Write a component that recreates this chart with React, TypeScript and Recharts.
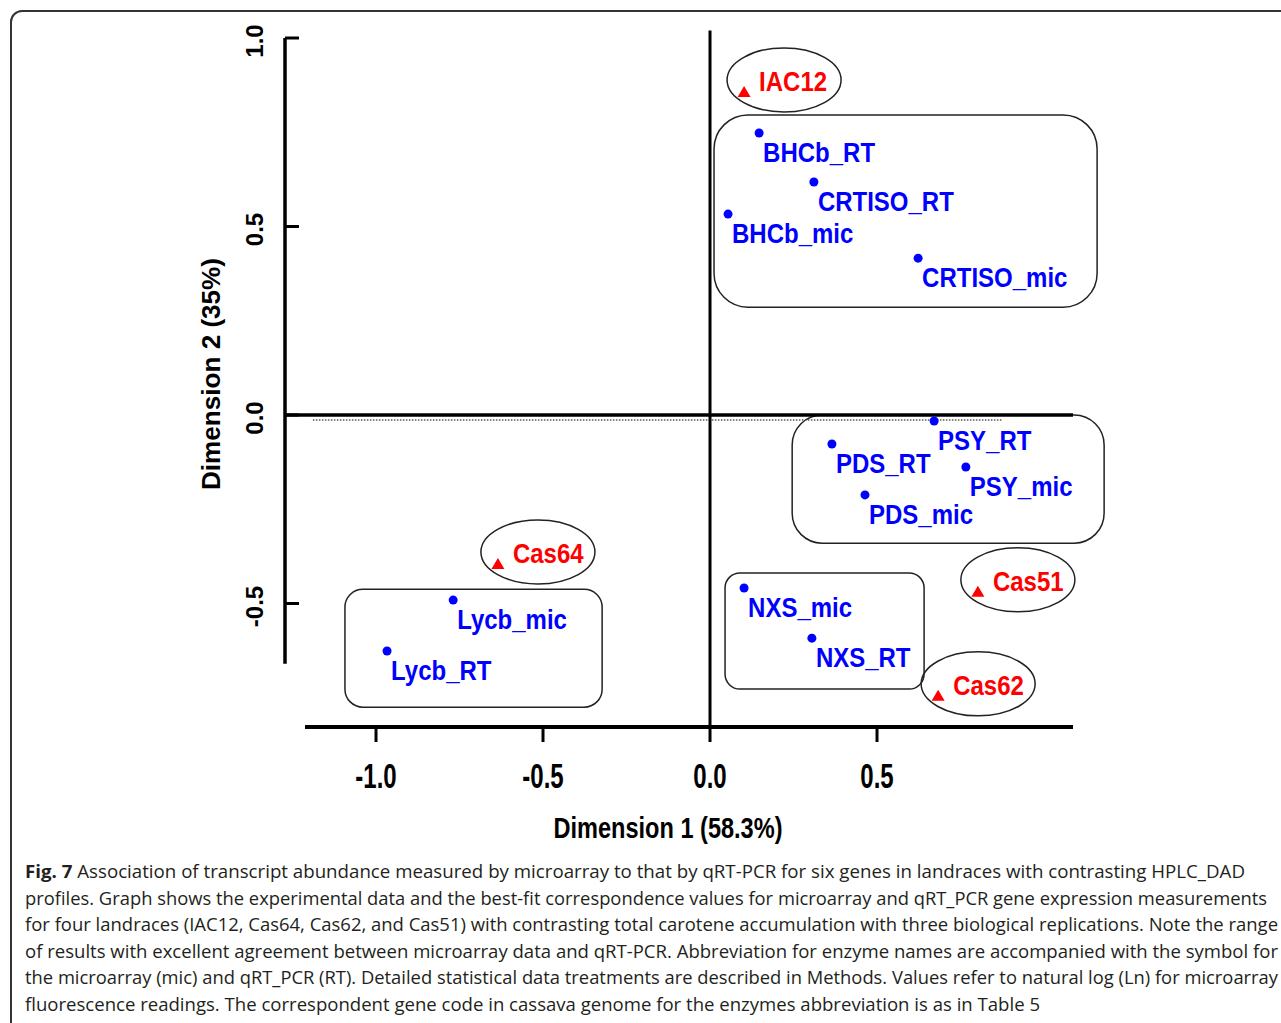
import React from "react";
import { ScatterChart, Scatter, XAxis, YAxis, ReferenceLine, ReferenceArea } from "recharts";

// gene scores (mic = microarray, RT = qRT_PCR)
const geneNames = [
  "BHCb_RT", "CRTISO_RT", "BHCb_mic", "CRTISO_mic",
  "PSY_RT", "PDS_RT", "PSY_mic", "PDS_mic",
  "NXS_mic", "NXS_RT", "Lycb_mic", "Lycb_RT",
];
const geneDim1 = [0.147, 0.311, 0.054, 0.623, 0.671, 0.365, 0.766, 0.464, 0.102, 0.305, -0.769, -0.967];
const geneDim2 = [0.748, 0.618, 0.533, 0.416, -0.016, -0.077, -0.138, -0.212, -0.459, -0.592, -0.491, -0.626];

// landrace scores
const landraceNames = ["IAC12", "Cas64", "Cas51", "Cas62"];
const landraceDim1 = [0.102, -0.635, 0.802, 0.683];
const landraceDim2 = [0.857, -0.395, -0.469, -0.745];

const xTicks = [-1.0, -0.5, 0.0, 0.5];
const yTicks = [-0.5, 0.0, 0.5, 1.0];

const X_MIN = -1.2725;
const X_MAX = 1.0868;
const Y_MIN = -0.8276;
const Y_MAX = 1.0;

// rounded boxes grouping the genes (annotation, data units)
const groupBoxes = [
  { x1: 0.012, x2: 1.159, y1: 0.796, y2: 0.286, r: 34 },
  { x1: 0.246, x2: 1.18, y1: 0.0, y2: -0.34, r: 30 },
  { x1: 0.045, x2: 0.641, y1: -0.419, y2: -0.727, r: 15 },
  { x1: -1.093, x2: -0.323, y1: -0.462, y2: -0.775, r: 18 },
];

const genes = geneNames.map((name, i) => ({ name, x: geneDim1[i], y: geneDim2[i] }));
const landraces = landraceNames.map((name, i) => ({ name, x: landraceDim1[i], y: landraceDim2[i] }));

const BLUE = "#0000ff";
const RED = "#ff0000";
const INK = "#000";
const ARIAL = '"Liberation Sans", Arial, sans-serif';

function GeneMark(props: any) {
  const { cx, cy, payload } = props;
  return (
    <g>
      <circle cx={cx} cy={cy} r={4.5} fill={BLUE} />
      <text
        transform={`translate(${cx + 4},${cy + 29}) scale(1,1.12)`}
        fill={BLUE}
        fontFamily={ARIAL}
        fontWeight="bold"
        fontSize={24}
      >
        {payload.name}
      </text>
    </g>
  );
}

function LandraceMark(props: any) {
  const { cx, cy, payload } = props;
  return (
    <g>
      <ellipse cx={cx + 40} cy={cy - 12} rx={57} ry={32} fill="none" stroke="#222" strokeWidth={1.5} />
      <polygon points={`${cx},${cy - 6} ${cx - 6.5},${cy + 5} ${cx + 6.5},${cy + 5}`} fill={RED} />
      <text
        transform={`translate(${cx + 15},${cy - 1}) scale(1,1.12)`}
        fill={RED}
        fontFamily={ARIAL}
        fontWeight="bold"
        fontSize={24}
      >
        {payload.name}
      </text>
    </g>
  );
}

function XTick(props: any) {
  const { x, y, payload } = props;
  return (
    <text
      transform={`translate(${x},${y + 46}) scale(1,1.45)`}
      textAnchor="middle"
      fontFamily={ARIAL}
      fontWeight="bold"
      fontSize={24}
      fill={INK}
    >
      {Number(payload.value).toFixed(1)}
    </text>
  );
}

function YTick(props: any) {
  const { x, y, payload } = props;
  return (
    <g>
      <line x1={x} x2={x + 14} y1={y} y2={y} stroke={INK} strokeWidth={3} />
      <text
        transform={`translate(${x - 31},${y + 3}) rotate(-90)`}
        textAnchor="middle"
        dominantBaseline="central"
        fontFamily={ARIAL}
        fontWeight="bold"
        fontSize={24}
        fill={INK}
      >
        {Number(payload.value).toFixed(1)}
      </text>
    </g>
  );
}

const captionLines = [
  { text: "Association of transcript abundance measured by microarray to that by qRT-PCR for six genes in landraces with contrasting HPLC_DAD", w: 1220, fig: true },
  { text: "profiles. Graph shows the experimental data and the best-fit correspondence values for microarray and qRT_PCR gene expression measurements", w: 1242 },
  { text: "for four landraces (IAC12, Cas64, Cas62, and Cas51) with contrasting total carotene accumulation with three biological replications. Note the range", w: 1253 },
  { text: "of results with excellent agreement between microarray data and qRT-PCR. Abbreviation for enzyme names are accompanied with the symbol for", w: 1253 },
  { text: "the microarray (mic) and qRT_PCR (RT). Detailed statistical data treatments are described in Methods. Values refer to natural log (Ln) for microarray", w: 1253 },
  { text: "fluorescence readings. The correspondent gene code in cassava genome for the enzymes abbreviation is as in Table 5", w: 1015 },
];

export default function App() {
  return (
    <div style={{ position: "absolute", left: 0, top: 0, width: 1281, height: 1023, overflow: "hidden", background: "#fff" }}>
      <div
        style={{
          position: "absolute",
          left: 10,
          top: 10,
          width: 1290,
          height: 1040,
          border: "2px solid #333",
          borderRadius: 12,
          boxSizing: "border-box",
        }}
      />
      <div style={{ position: "absolute", left: 0, top: 0 }}>
        <ScatterChart width={1281} height={870} margin={{ top: 38, right: 208, bottom: 23, left: 205 }}>
          <XAxis
            type="number"
            dataKey="x"
            domain={[X_MIN, X_MAX]}
            ticks={xTicks}
            height={120}
            axisLine={false}
            tickSize={15}
            tickMargin={0}
            tickLine={{ stroke: INK, strokeWidth: 3 }}
            tick={<XTick />}
            label={() => (
              <text
                transform="translate(668,838) scale(1,1.2)"
                textAnchor="middle"
                fontFamily={ARIAL}
                fontWeight="bold"
                fontSize={24}
                textLength={229}
                lengthAdjust="spacingAndGlyphs"
                fill={INK}
              >
                Dimension 1 (58.3%)
              </text>
            )}
          />
          <YAxis
            type="number"
            dataKey="y"
            domain={[Y_MIN, Y_MAX]}
            ticks={yTicks}
            width={80}
            axisLine={false}
            tickLine={false}
            tickSize={0}
            tickMargin={0}
            tick={<YTick />}
            label={() => (
              <text
                transform="translate(220,374) rotate(-90)"
                textAnchor="middle"
                fontFamily={ARIAL}
                fontWeight="bold"
                fontSize={25}
                textLength={232}
                lengthAdjust="spacingAndGlyphs"
                fill={INK}
              >
                Dimension 2 (35%)
              </text>
            )}
          />

          {groupBoxes.map((b, i) => (
            <ReferenceArea
              key={i}
              x1={b.x1}
              x2={b.x2}
              y1={b.y1}
              y2={b.y2}
              ifOverflow="visible"
              shape={(p: any) => (
                <rect x={p.x} y={p.y} width={p.width} height={p.height} rx={b.r} ry={b.r} fill="none" stroke="#222" strokeWidth={1.5} />
              )}
            />
          ))}

          {/* detached axis lines */}
          <ReferenceLine segment={[{ x: X_MIN, y: -0.66 }, { x: X_MIN, y: Y_MAX }]} stroke={INK} strokeWidth={3.5} ifOverflow="visible" />
          <ReferenceLine segment={[{ x: -1.2126, y: Y_MIN }, { x: X_MAX, y: Y_MIN }]} stroke={INK} strokeWidth={4} ifOverflow="visible" />

          {/* origin cross */}
          <ReferenceLine segment={[{ x: -1.189, y: -0.013 }, { x: 0.877, y: -0.013 }]} stroke="#555" strokeWidth={1.5} strokeDasharray="1.5 1.5" ifOverflow="visible" />
          <ReferenceLine y={0} stroke={INK} strokeWidth={3.5} ifOverflow="visible" />
          <ReferenceLine segment={[{ x: 0, y: 1.02 }, { x: 0, y: Y_MIN }]} stroke={INK} strokeWidth={3} ifOverflow="visible" />

          <Scatter data={genes} shape={<GeneMark />} isAnimationActive={false} />
          <Scatter data={landraces} shape={<LandraceMark />} isAnimationActive={false} />
        </ScatterChart>
      </div>
      <svg style={{ position: "absolute", left: 0, top: 850 }} width={1281} height={173}>
        {captionLines.map((l, i) => (
          <text
            key={i}
            x={25}
            y={28 + i * 26.5}
            fontFamily='"Open Sans", sans-serif'
            fontSize={18}
            fill="#231f20"
            textLength={l.w}
            lengthAdjust="spacingAndGlyphs"
          >
            {l.fig ? <tspan fontWeight="bold">Fig. 7 </tspan> : null}
            {l.text}
          </text>
        ))}
      </svg>
    </div>
  );
}
